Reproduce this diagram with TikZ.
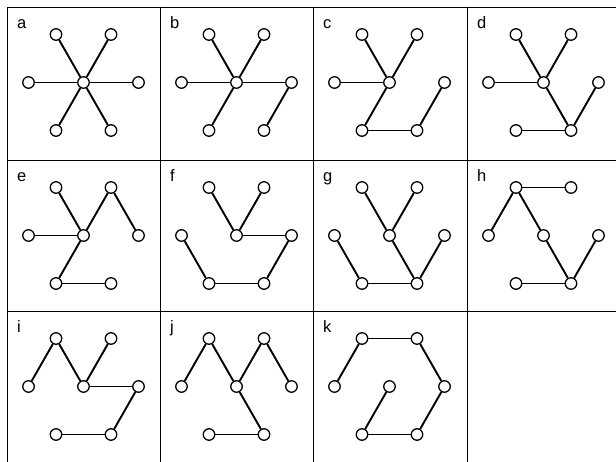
\documentclass[tikz,border=0pt]{standalone}
\usepackage{fontspec}
\setmainfont{Liberation Sans}
\begin{document}
\begin{tikzpicture}[x=1pt,y=1pt,
  vtx/.style={circle,draw,fill=white,inner sep=0pt,minimum size=11.5pt,line width=1.3pt},
  edg/.style={line width=1.9pt},
  grid line/.style={line width=0.8pt},
  lbl/.style={anchor=base west,inner sep=0pt,font=\fontsize{16.5}{18}\selectfont}]
\useasboundingbox (0,0) rectangle (616,-462);
% grid
\foreach \yy in {7,160,311} \draw[grid line] (7,-\yy) -- (616,-\yy);
\foreach \xx in {7,160,313,467} \draw[grid line] (\xx,-7) -- (\xx,-462);
% panels
\foreach \p/\cx/\cy in {a/83.5/82.5,b/236.5/82.5,c/389.5/82.5,d/543.5/82.5,
                        e/83.5/235.5,f/236.5/235.5,g/389.5/235.5,h/543.5/235.5,
                        i/83.5/386.5,j/236.5/386.5,k/389.5/386.5}{
  \begin{scope}[shift={(\cx pt,-\cy pt)},x=27.5pt,y=48pt]
    \foreach \n/\xx/\yy in {C/0/0,UL/-1/1,UR/1/1,L/-2/0,R/2/0,DL/-1/-1,DR/1/-1}
      \node[vtx] (\p\n) at (\xx,\yy) {};
  \end{scope}
  \node[lbl] (lab\p) at (\cx-66.5,-\cy+53.5) {\p};
}
% edges
\foreach \p/\edges in {
  a/{C/UL,C/UR,C/L,C/R,C/DL,C/DR},
  b/{C/UL,C/UR,C/L,C/R,C/DL,R/DR},
  c/{C/UL,C/UR,C/L,C/DL,DL/DR,DR/R},
  d/{C/UL,C/UR,C/L,C/DR,DR/DL,DR/R},
  e/{C/UL,C/UR,C/L,C/DL,UR/R,DL/DR},
  f/{C/UL,C/UR,C/R,R/DR,DR/DL,DL/L},
  g/{C/UL,C/UR,C/DR,DR/R,DR/DL,DL/L},
  h/{UL/UR,UL/L,UL/C,C/DR,DR/R,DR/DL},
  i/{L/UL,UL/C,C/UR,C/R,R/DR,DR/DL},
  j/{L/UL,UL/C,C/UR,UR/R,C/DR,DR/DL},
  k/{L/UL,UL/UR,UR/R,R/DR,DR/DL,DL/C}}{
  \foreach \u/\v in \edges \draw[edg] (\p\u) -- (\p\v);
}
\end{tikzpicture}
\end{document}
